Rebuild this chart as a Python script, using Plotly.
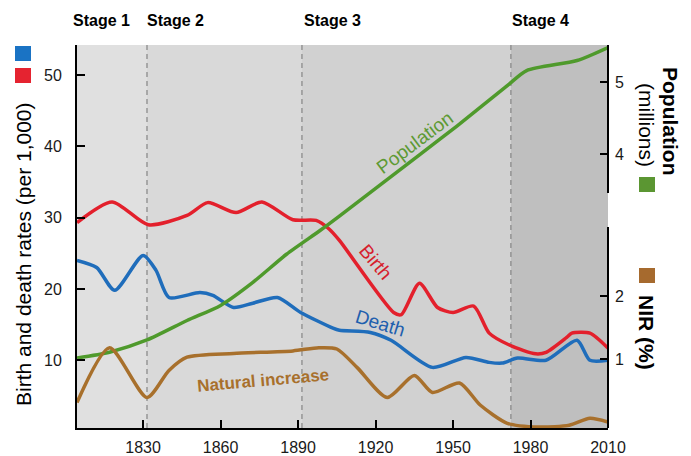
import plotly.graph_objects as go

# --- data ---
birth_years = [1804.4, 1818, 1832, 1847, 1855, 1866, 1876, 1888, 1897, 1902, 1906,
               1927, 1930, 1937, 1944, 1950, 1958, 1964, 1972, 1982, 1986, 1994,
               1996, 2003, 2010]
birth_rate = [29.3, 32.2, 29.0, 30.3, 32.1, 30.7, 32.2, 29.7, 29.6, 28.4, 26.8,
              16.7, 16.4, 20.8, 17.4, 16.7, 17.6, 13.8, 12.1, 10.9, 11.1, 13.2,
              13.8, 13.8, 11.7]

death_years = [1804.4, 1812, 1819, 1830, 1835, 1840, 1852, 1857, 1865, 1872.5, 1882,
               1891, 1903.5, 1906, 1918, 1926, 1942, 1955, 1964, 1969, 1975, 1986,
               1998, 2003, 2010]
death_rate = [24.0, 23.0, 19.8, 24.7, 22.6, 18.8, 19.5, 19.1, 17.4, 18.0, 18.8,
              16.7, 14.5, 14.2, 13.9, 12.8, 9.0, 10.4, 9.7, 9.6, 10.3, 10.0,
              12.8, 10.0, 10.0]

nir_years = [1804.4, 1817, 1831.5, 1840, 1847, 1865, 1888, 1898, 1905, 1913, 1924.5,
             1935, 1942, 1952.5, 1960.5, 1971, 1983.5, 1995, 2003, 2010]
nir_pct = [0.31, 1.18, 0.39, 0.82, 1.03, 1.09, 1.13, 1.18, 1.16, 0.86, 0.39,
           0.74, 0.47, 0.62, 0.27, -0.02, -0.08, -0.05, 0.06, 0.0]

pop_years = [1804.4, 1817, 1831.5, 1847, 1860, 1872.5, 1885.5, 1898.5, 1906, 1937,
             1951.5, 1971, 1978.5, 1998, 2010]
population = [1.17, 1.25, 1.42, 1.69, 1.90, 2.22, 2.61, 2.94, 3.14, 3.99,
              4.39, 4.95, 5.16, 5.30, 5.48]

stage_names = ['Stage 1', 'Stage 2', 'Stage 3', 'Stage 4']
stage_starts = [1804.4, 1831.5, 1891.5, 1972.4]
stage_label_x = [1813.7, 1842.7, 1903.5, 1984.0]
x_ticks = [1830, 1860, 1890, 1920, 1950, 1980, 2010]
rate_ticks = [10, 20, 30, 40, 50]
pop_ticks = [4, 5]
nir_ticks = [1, 2]

X_MIN, X_MAX = 1804.4, 2010

RED = '#e3202c'
BLUE = '#1f6dbb'
GREEN = '#4f9a2c'
BROWN = '#a8702c'
FONT = 'Liberation Sans, Arial, sans-serif'

# the page body has an 8px margin, so the figure starts at (8, 8)
OFF = 8
W, H = 691 - OFF, 456 - OFF
# plot area in page pixels (left, top, right, bottom)
L, T, R, B = 77, 45, 608, 428


def px(x):
    return (x - L) / (R - L)


def py(y):
    return (B - y) / (B - T)


fig = go.Figure()

fig.add_trace(go.Scatter(x=birth_years, y=birth_rate, mode='lines', name='Birth',
                         line=dict(color=RED, width=3.5, shape='spline', smoothing=0.7)))
fig.add_trace(go.Scatter(x=death_years, y=death_rate, mode='lines', name='Death',
                         line=dict(color=BLUE, width=3.5, shape='spline', smoothing=0.7)))
fig.add_trace(go.Scatter(x=pop_years, y=population, mode='lines', name='Population',
                         yaxis='y2',
                         line=dict(color=GREEN, width=3.5, shape='spline', smoothing=0.7)))
fig.add_trace(go.Scatter(x=nir_years, y=nir_pct, mode='lines', name='NIR',
                         yaxis='y3',
                         line=dict(color=BROWN, width=3.5, shape='spline', smoothing=0.7)))

# stage shading
shades = ['#e0e0e0', '#d9d9d9', '#d1d1d1', '#bfbfbf']
ends = stage_starts[1:] + [X_MAX]
for x0, x1, c in zip(stage_starts, ends, shades):
    fig.add_shape(type='rect', xref='x', yref='paper', x0=x0, x1=x1, y0=0, y1=1,
                  fillcolor=c, line_width=0, layer='below')
for x0 in stage_starts[1:]:
    fig.add_shape(type='line', xref='x', yref='paper', x0=x0, x1=x0, y0=0, y1=1,
                  line=dict(color='#858585', width=1.2, dash='5px,4px'), layer='below')

# right axis line, broken in two parts
fig.add_shape(type='line', xref='paper', yref='paper', x0=1, x1=1, y0=py(193), y1=1,
              line=dict(color='black', width=2))
fig.add_shape(type='line', xref='paper', yref='paper', x0=1, x1=1, y0=0, y1=py(227),
              line=dict(color='black', width=2))

# colour keys
keys = [(15, 31, 46, 61, '#1a73c4'), (15, 31, 68, 83, '#e52330'),
        (639, 655, 177, 192, '#5b9632'), (639, 655, 268, 283, '#a66a2e')]
for x0, x1, y0, y1, c in keys:
    fig.add_shape(type='rect', xref='paper', yref='paper', x0=px(x0), x1=px(x1),
                  y0=py(y1), y1=py(y0), fillcolor=c, line_width=0)


def note(x, y, text, size, angle=0, color='black', xref='paper', yref='paper'):
    fig.add_annotation(x=x, y=y, xref=xref, yref=yref, text=text, textangle=angle,
                       xanchor='center', yanchor='middle', showarrow=False,
                       font=dict(family=FONT, size=size, color=color))


# stage titles
for name, xs in zip(stage_names, stage_label_x):
    note(xs, py(21), '<b>%s</b>' % name, 16, xref='x')

# axis titles
note(px(24), py(254), 'Birth and death rates (per 1,000)', 21, angle=-90)
note(px(671), py(121), '<b>Population</b>', 21, angle=90)
note(px(647), py(125), '(millions)', 21, angle=90)
note(px(647), py(332), '<b>NIR (%)</b>', 21, angle=90)

# curve labels
note(1935.3, 40.5, 'Population', 19, angle=-37, color='#5e9a34', xref='x', yref='y')
note(1919.8, 23.8, 'Birth', 19, angle=50, color='#d6202c', xref='x', yref='y')
note(1922.1, 15.2, 'Death', 19, angle=17, color='#1f5fae', xref='x', yref='y')
note(1876.4, 7.1, '<b>Natural increase</b>', 17, angle=-5, color='#a8702c', xref='x', yref='y')

tick_font = dict(family=FONT, size=16, color='#1a1a1a')

fig.update_layout(
    width=W, height=H,
    margin=dict(l=L - OFF, r=W - (R - OFF), t=T - OFF, b=H - (B - OFF), autoexpand=False),
    paper_bgcolor='white', plot_bgcolor='rgba(0,0,0,0)',
    showlegend=False,
    font=dict(family=FONT),
    xaxis=dict(range=[X_MIN, X_MAX], tickvals=x_ticks, ticks='inside', ticklen=8,
               tickwidth=1.5, tickcolor='black', showline=True, linecolor='black',
               linewidth=2, showgrid=False, zeroline=False, tickfont=tick_font,
               ticklabelstandoff=4),
    yaxis=dict(range=[0.5, 54.2], tickvals=rate_ticks, ticks='inside', ticklen=8,
               tickwidth=1.5, tickcolor='black', showline=True, linecolor='black',
               linewidth=2, showgrid=False, zeroline=False, tickfont=tick_font,
               ticklabelstandoff=10),
    yaxis2=dict(range=[0.198, 5.515], overlaying='y', side='right', tickvals=pop_ticks,
                ticks='inside', ticklen=8, tickwidth=1.5, tickcolor='black',
                showline=False, showgrid=False, zeroline=False, tickfont=tick_font,
                ticklabelstandoff=6),
    yaxis3=dict(range=[-0.095, 5.99], overlaying='y', side='right', tickvals=nir_ticks,
                ticks='inside', ticklen=8, tickwidth=1.5, tickcolor='black',
                showline=False, showgrid=False, zeroline=False, tickfont=tick_font,
                ticklabelstandoff=6),
)

fig.write_html('out.html')
